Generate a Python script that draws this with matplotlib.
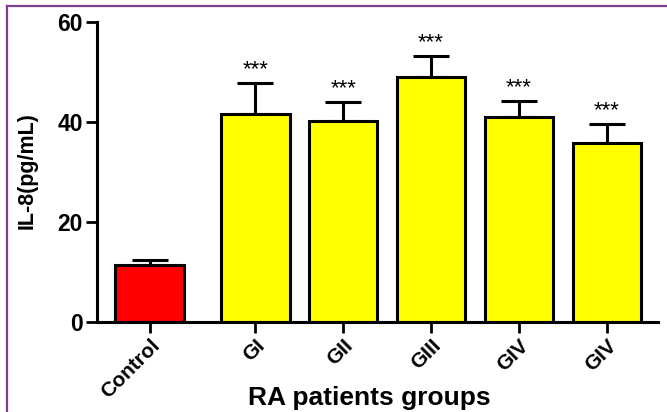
import matplotlib
matplotlib.use("Agg")
from matplotlib import pyplot as plt
from matplotlib.lines import Line2D

# IL-8 levels per group (mean and upper SEM)
groups = ["Control", "GI", "GII", "GIII", "GIV", "GIV"]
positions = [0, 1.2, 2.2, 3.2, 4.2, 5.2]
means = [11.5, 41.6, 40.3, 49.1, 41.1, 35.9]
errors = [0.9, 6.3, 3.7, 4.1, 3.2, 3.8]
stars = ["", "***", "***", "***", "***", "***"]
colors = ["#ff0000", "#ffff00", "#ffff00", "#ffff00", "#ffff00", "#ffff00"]

plt.rcParams["font.family"] = ["Liberation Sans", "DejaVu Sans"]

fig = plt.figure(figsize=(6.67, 4.12), dpi=100)
ax = fig.add_axes([0.1454, 0.2184, 0.8411, 0.7282])

# bars with one-sided error bars
ax.bar(positions, means, width=0.78, color=colors, edgecolor="black",
       linewidth=2.2, zorder=2)
ax.errorbar(positions, means, yerr=[[0] * len(errors), errors], fmt="none",
            ecolor="black", elinewidth=2.2, capsize=13.3, capthick=2.2, zorder=1)

# significance marks above the caps
for x, m, e, s in zip(positions, means, errors, stars):
    if s:
        ax.annotate(s, (x, m + e), xytext=(0, 2), textcoords="offset points",
                    ha="center", va="bottom", fontsize=16)

ax.set_xlim(-0.6, 5.78)
ax.set_ylim(0, 60)
ax.set_yticks([0, 20, 40, 60])
ax.set_xticks(positions)
ax.set_xticklabels(groups, rotation=45, ha="right", rotation_mode="anchor",
                   fontweight="bold", fontsize=15)
for lbl in ax.get_yticklabels():
    lbl.set_fontweight("bold")
    lbl.set_fontsize(16.5)

ax.spines["top"].set_visible(False)
ax.spines["right"].set_visible(False)
ax.spines["left"].set_linewidth(2.2)
ax.spines["bottom"].set_linewidth(2.2)
ax.tick_params(axis="both", width=2, length=8, pad=2)

fig.text(27 / 667, 1 - 171 / 412, "IL-8(pg/mL)", rotation=90, ha="center",
         va="center", fontweight="bold", fontsize=15.5)
fig.text(369 / 667, 1 - 405 / 412, "RA patients groups", ha="center",
         va="baseline", fontweight="bold", fontsize=19)

# purple frame along the top and left edges
fig.add_artist(Line2D([6.5 / 667, 6.5 / 667], [0, 1 - 5.5 / 412],
                      color="#7d3f8f", linewidth=1.6))
fig.add_artist(Line2D([6.5 / 667, 1], [1 - 5.5 / 412, 1 - 5.5 / 412],
                      color="#7d3f8f", linewidth=1.6))

fig.savefig("out.png", dpi=100)
